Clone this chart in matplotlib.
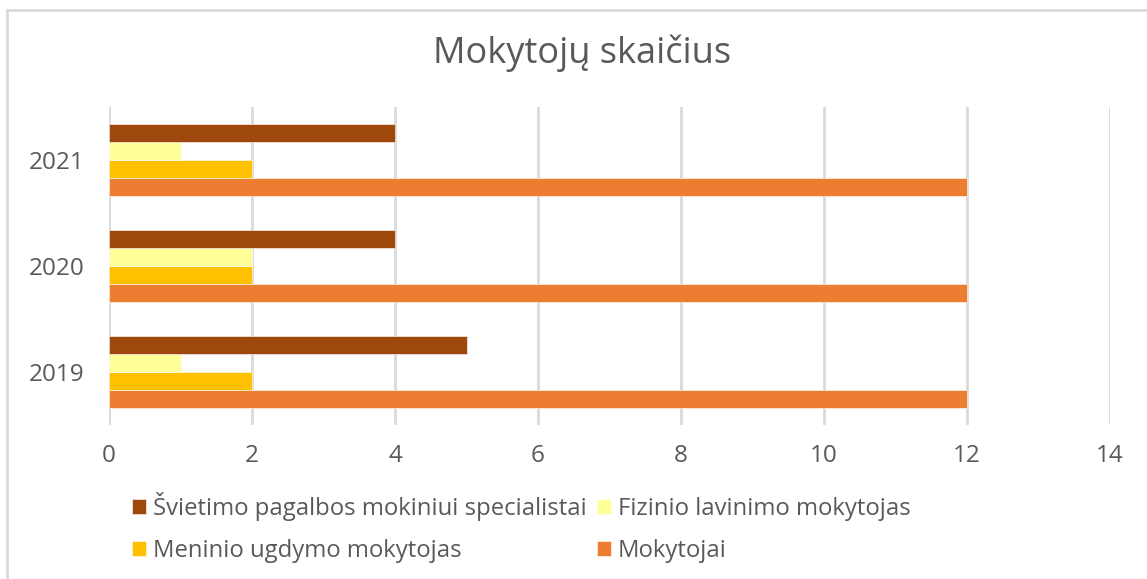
import matplotlib.pyplot as plt
import numpy as np
from matplotlib.patches import Rectangle

years = ['2019', '2020', '2021']
mokytojai = [12, 12, 12]
meninio = [2, 2, 2]
fizinio = [1, 2, 1]
svietimo = [5, 4, 4]

series_names = ['Mokytojai', 'Meninio ugdymo mokytojas',
                'Fizinio lavinimo mokytojas',
                'Švietimo pagalbos mokiniui specialistai']
colors = ['#ED7D31', '#FFC000', '#FFFF99', '#9E480E']
text_color = '#595959'
grid_color = '#D9D9D9'

plt.rcParams['font.family'] = ['Open Sans', 'DejaVu Sans']

fig = plt.figure(figsize=(11.47, 5.79), dpi=100)
ax = fig.add_axes([109 / 1147, 154 / 579, 1001 / 1147, 318 / 579])

# chart border (only left and top visible in reference)
fig.patches.append(Rectangle((7 / 1147, -0.1), 1.2, (579 - 10) / 579 + 0.1,
                             transform=fig.transFigure, fill=False,
                             edgecolor=grid_color, linewidth=2))

y = np.arange(len(years))
h = 0.168
bars = {}
for i, (vals, name, col) in enumerate(zip([mokytojai, meninio, fizinio, svietimo],
                                          series_names, colors)):
    bars[name] = ax.barh(y + (i - 1.5) * h, vals, height=h, color=col,
                         edgecolor='white', linewidth=0.4, label=name, zorder=3)

ax.set_xlim(0, 14)
ax.set_ylim(-0.5, 2.5)
ax.set_xticks(range(0, 15, 2))
ax.set_yticks(y)
ax.set_yticklabels(years)
ax.grid(axis='x', color=grid_color, linewidth=2, zorder=0)
for s in ax.spines.values():
    s.set_visible(False)
ax.tick_params(length=0, labelsize=17.5, labelcolor=text_color)
ax.tick_params(axis='x', pad=14)
ax.tick_params(axis='y', pad=18)

fig.text(582 / 1147, 1 - 53 / 579, 'Mokytojų skaičius', ha='center', va='center',
         fontsize=26, color=text_color)

order = ['Švietimo pagalbos mokiniui specialistai', 'Meninio ugdymo mokytojas',
         'Fizinio lavinimo mokytojas', 'Mokytojai']
leg = fig.legend([bars[n] for n in order], order, ncol=2, loc='upper left',
                 bbox_to_anchor=(132 / 1147, 1 - 492 / 579), frameon=False,
                 fontsize=17.2, handlelength=0.58, handleheight=0.58,
                 handletextpad=0.28, columnspacing=0.45, labelspacing=0.75,
                 borderaxespad=0, borderpad=0)
for t in leg.get_texts():
    t.set_color(text_color)

fig.savefig('out.png', dpi=100, facecolor='white')
